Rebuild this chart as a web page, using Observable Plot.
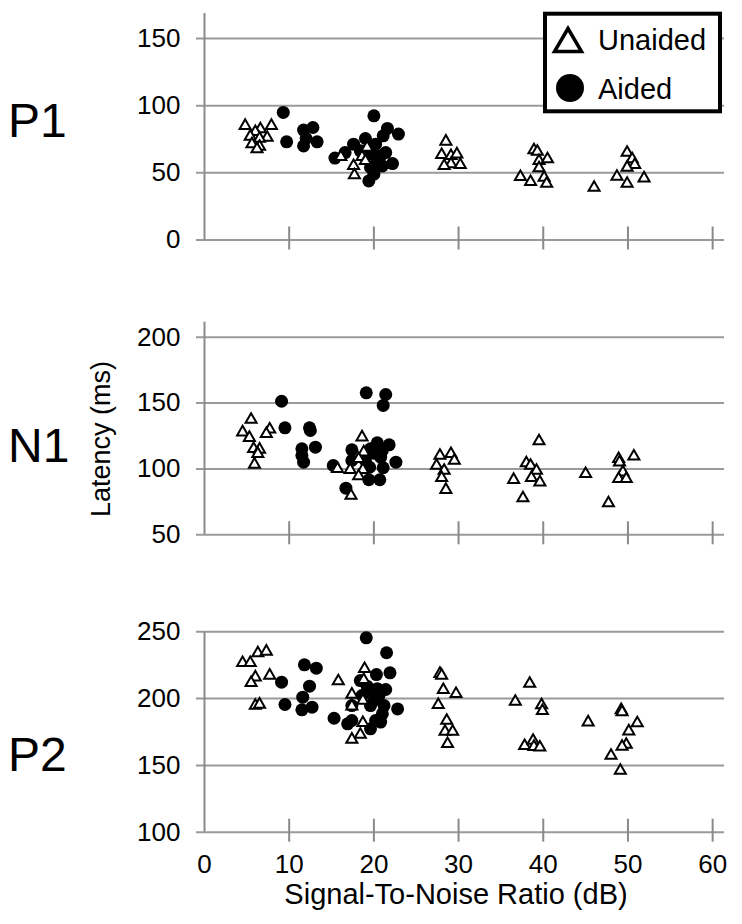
<!DOCTYPE html>
<html>
<head>
<meta charset="utf-8">
<script src="https://cdn.jsdelivr.net/npm/d3@7"></script>
<script src="https://cdn.jsdelivr.net/npm/@observablehq/plot@0.6"></script>
<style>
  body { margin: 0; background: #fff; }
  #root { position: relative; width: 742px; height: 924px; overflow: hidden; background: #fff;
          font-family: 'Liberation Sans', Arial, sans-serif; color: #000; }
  #root > svg { position: absolute; left: 0; top: 0; }
</style>
</head>
<body>
<div id="root"></div>
<script>
// ---------- data: [signal-to-noise ratio (dB), latency (ms)] ----------
const p1Unaided = [
  [4.8,85.1],[7.9,85.1],[6.6,82.6],[6.0,80.6],[5.4,77.1],[7.4,76.3],[6.5,75.6],[5.6,71.4],[6.5,69.6],[6.2,67.7],
  [16.1,61.9],[19.2,68.9],[18.6,61.9],[19.0,59.0],[17.6,55.2],[17.7,48.3],
  [28.5,73.4],[28.0,63.4],[29.1,62.7],[29.8,63.9],[29.1,56.5],[28.3,55.2],[30.2,56.0],
  [38.9,66.9],[39.3,65.9],[39.5,59.0],[40.5,60.2],[39.5,53.5],[37.3,47.0],[38.5,43.3],[40.1,46.5],[40.4,42.0],
  [46.0,39.0],
  [49.9,65.1],[50.5,60.2],[50.8,56.0],[49.9,54.0],[48.7,47.2],[49.9,42.0],[51.9,46.0]
];
const p1Aided = [
  [9.3,95.0],[9.7,73.1],[11.7,81.9],[12.8,83.8],[12.0,75.6],[13.3,73.1],[11.7,70.1],
  [15.4,61.0],[16.6,65.1],[17.6,71.4],[19.0,75.6],[20.0,92.5],[21.6,83.1],[22.9,78.9],[21.1,77.6],
  [20.2,71.4],[21.4,65.1],[22.2,56.9],[19.6,63.9],[20.4,59.0],[19.6,54.0],[19.4,44.0],[20.0,49.0],
  [18.4,66.4],[20.8,62.7],[20.0,70.1],[21.0,55.2]
];
const n1Unaided = [
  [5.5,137.5],[4.5,127.9],[5.3,123.7],[7.7,130.0],[7.3,126.7],[5.8,115.3],[6.5,114.8],[6.3,111.5],[5.9,103.4],
  [18.6,124.1],[18.8,112.7],[18.2,107.7],[15.7,100.1],[17.2,99.4],[18.7,99.4],[18.2,94.5],[17.3,79.8],
  [27.8,110.2],[29.1,111.5],[29.5,106.4],[27.4,102.6],[28.3,98.8],[28.0,93.3],[28.5,84.2],
  [39.5,121.1],[38.0,104.4],[38.5,102.6],[39.2,98.8],[38.6,93.3],[39.6,89.9],[36.5,91.8],[37.6,77.8],
  [45.0,96.3],
  [48.9,107.7],[49.0,105.1],[49.4,97.5],[48.9,92.5],[49.8,92.5],[50.7,109.5],[47.7,74.0]
];
const n1Aided = [
  [9.1,151.4],[9.5,131.2],[12.4,131.2],[12.5,129.2],[13.1,116.5],[11.5,115.3],[11.5,110.2],[11.7,105.1],
  [19.1,157.8],[21.4,156.5],[21.1,148.2],[17.4,114.5],[15.2,102.6],[17.4,106.4],[16.7,85.4],[19.4,91.8],
  [20.7,91.8],[21.1,100.9],[22.6,105.1],[21.8,118.3],[20.4,119.9],[19.6,115.3],[20.8,108.9],[19.5,101.3],
  [20.0,112.0],[19.0,106.4],[21.0,114.0]
];
const p2Unaided = [
  [4.5,226.8],[5.4,226.8],[6.3,234.0],[7.3,235.3],[6.0,216.0],[5.5,211.8],[7.7,217.3],[6.0,194.8],[6.5,195.6],
  [15.8,213.1],[18.9,222.3],[18.8,214.1],[17.4,203.1],[18.7,198.6],[17.4,194.3],[18.7,181.9],[18.4,173.1],[17.4,169.4],
  [27.8,218.6],[28.0,217.3],[28.2,206.6],[29.7,203.6],[27.6,195.3],[28.6,183.6],[28.4,175.3],[29.3,175.3],[28.7,166.2],
  [38.4,211.2],[36.7,197.8],[39.8,195.1],[39.9,190.8],[37.8,164.7],[38.8,168.5],[38.9,164.0],[39.6,163.5],
  [45.3,182.3],
  [49.2,191.5],[49.3,190.0],[51.1,181.6],[50.1,175.6],[49.8,165.6],[49.3,164.1],[48.0,157.3],[49.1,146.1]
];
const p2Aided = [
  [9.1,212.3],[9.5,195.6],[11.8,225.3],[13.2,222.8],[12.4,209.3],[11.6,201.1],[12.7,193.6],[11.5,191.6],
  [19.1,245.5],[21.5,234.3],[21.9,219.3],[20.3,218.0],[18.4,213.5],[18.6,202.3],[17.4,194.8],[15.3,185.3],
  [16.9,181.1],[17.4,183.6],[22.8,192.3],[21.4,206.8],[20.4,207.4],[19.4,206.1],[20.0,198.6],[19.6,194.8],
  [21.0,188.6],[20.2,183.6],[19.6,177.4],[20.8,182.4],[21.2,194.8],[19.2,209.3],[20.6,202.3]
];

// tick labels
const xTickLabels = [0, 10, 20, 30, 40, 50, 60];
const xTickMarks = [10, 20, 30, 40, 50, 60];
const p1YTicks = [0, 50, 100, 150];
const n1YTicks = [50, 100, 150, 200];
const p2YTicks = [100, 150, 200, 250];
const panelNames = ["P1", "N1", "P2"];
const seriesNames = ["Unaided", "Aided"];
const yTitle = "Latency (ms)";
const xTitle = "Signal-To-Noise Ratio (dB)";

// ---------- layout ----------
const W = 742, H = 924;
const GRID = "#9a9a9a", AXIS = "#8a8a8a";
const FONT = "'Liberation Sans', Arial, sans-serif";

function panel({unaided, aided, yTicks, yDomain, top, bottom, showX}) {
  const plotH = bottom - top;
  return Plot.plot({
    width: W, height: H,
    marginLeft: 204, marginRight: 18, marginTop: top, marginBottom: H - bottom,
    x: {domain: [0, 61.4], axis: null},
    y: {domain: yDomain, axis: null},
    style: {fontFamily: FONT, fontSize: "26px", background: "transparent", color: "#000", overflow: "visible"},
    marks: [
      Plot.gridY(yTicks, {stroke: GRID, strokeOpacity: 1, strokeWidth: 2, insetLeft: -8}),
      Plot.axisY(yTicks, {tickSize: 0, tickPadding: 24, fontSize: 26, fill: "#000", label: null}),
      Plot.ruleX([0], {stroke: AXIS, strokeWidth: 2}),
      Plot.ruleX(xTickMarks, {stroke: AXIS, strokeWidth: 2, insetTop: plotH - 13, insetBottom: -10}),
      showX ? Plot.axisX(xTickLabels, {tickSize: 0, tickPadding: 22, fontSize: 26, fill: "#000", label: null}) : null,
      Plot.dot(aided, {x: d => d[0], y: d => d[1], r: 6.5, fill: "#000", stroke: "none"}),
      Plot.dot(unaided, {x: d => d[0], y: d => d[1], symbol: "triangle", r: 4.1, fill: "#fff", stroke: "#000", strokeWidth: 2})
    ]
  });
}

const root = document.getElementById("root");
root.append(panel({unaided: p1Unaided, aided: p1Aided, yTicks: p1YTicks, yDomain: [0, 168.7], top: 13, bottom: 239.5, showX: false}));
root.append(panel({unaided: n1Unaided, aided: n1Aided, yTicks: n1YTicks, yDomain: [50, 211.4], top: 321.7, bottom: 534.3, showX: false}));
root.append(panel({unaided: p2Unaided, aided: p2Aided, yTicks: p2YTicks, yDomain: [100, 250], top: 631.3, bottom: 831.7, showX: true}));

// ---------- titles and legend ----------
const svg = d3.select(root).append("svg")
  .attr("width", W).attr("height", H)
  .attr("font-family", FONT).attr("fill", "#000");

const nameBaselines = [137, 462, 771];
panelNames.forEach((n, i) => {
  svg.append("text").attr("x", 8).attr("y", nameBaselines[i]).attr("font-size", 48).text(n);
});
svg.append("text")
  .attr("transform", "translate(110,439) rotate(-90)")
  .attr("text-anchor", "middle").attr("font-size", 27).text(yTitle);
svg.append("text")
  .attr("x", 456).attr("y", 904).attr("text-anchor", "middle").attr("font-size", 29).text(xTitle);

const lg = svg.append("g");
lg.append("rect").attr("x", 545).attr("y", 13.7).attr("width", 175).attr("height", 97.6)
  .attr("fill", "#fff").attr("stroke", "#000").attr("stroke-width", 4);
lg.append("path").attr("d", "M568,28.5L554.5,51.5L581.5,51.5Z")
  .attr("fill", "#fff").attr("stroke", "#000").attr("stroke-width", 3.5).attr("stroke-linejoin", "miter");
lg.append("circle").attr("cx", 570).attr("cy", 88).attr("r", 14).attr("fill", "#000");
lg.append("text").attr("x", 598).attr("y", 50).attr("font-size", 29).text(seriesNames[0]);
lg.append("text").attr("x", 598).attr("y", 99).attr("font-size", 29).text(seriesNames[1]);
</script>
</body>
</html>
